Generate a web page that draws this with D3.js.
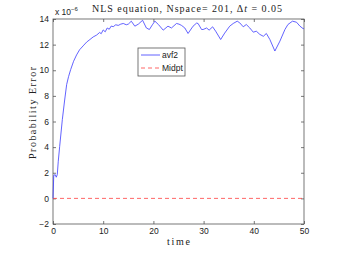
<!DOCTYPE html>
<meta charset="utf-8">
<title>NLS probability error</title>
<style>
body{ margin:0; background:white; }
text{ fill:#222; }
</style>
<body>
<script src="https://d3js.org/d3.v7.min.js"></script>
<script>

// avf2 probability error (x 1e-6) against time
var time = [0,0.15,0.45,0.65,0.85,1.05,1.33,1.86,2.3,2.72,3.1,3.52,4.1,4.7,5.3,6.0,6.7,7.36,8.0,8.7,
	9.3,9.6,10.0,10.4,10.8,11.2,11.6,12.0,12.5,13,13.5,14,14.6,15.0,15.6,16.3,17.0,17.85,18.6,19.2,
	19.8,20.3,21,21.95,22.9,23.6,24.6,25.1,25.6,26.26,26.9,27.9,28.6,28.9,29.6,29.9,30.6,31.1,31.8,32.4,
	33.4,34.2,35.2,35.9,36.7,37.2,37.9,38.5,39.2,39.9,40.5,41.2,41.9,42.5,43.2,44.2,45.2,46.2,46.8,47.7,
	48.5,49.2,49.85,50];
var avf2 = [0,1.8,1.85,1.65,1.85,2.9,4.06,6.15,7.6,8.88,9.5,10.05,10.7,11.2,11.6,11.9,12.2,12.4,12.6,12.75,
	12.95,12.85,13.15,13.0,13.3,13.2,13.45,13.4,13.55,13.5,13.6,13.65,13.55,13.6,13.83,13.44,13.6,13.9,13.3,13.18,
	13.55,13.83,13.57,13.13,13.44,13.3,13.65,13.6,13.5,13.3,12.87,13.44,13.68,13.65,13.18,13.18,13.3,13.13,13.39,13.05,
	12.4,12.9,13.44,13.65,13.83,13.7,13.39,13.57,13.3,12.97,13.05,12.8,12.65,12.87,12.4,11.5,12.27,13.18,13.57,13.83,
	13.75,13.44,13.24,13.3];
var midptTime = [0, 50];
var midpt = [0, 0];

var xTicks = [0, 10, 20, 30, 40, 50];
var yTicks = [-2, 0, 2, 4, 6, 8, 10, 12, 14];
var legendNames = ['avf2', 'Midpt'];

var width = 337, height = 253;
var margin = {top: 19, right: 33, bottom: 29, left: 53};

var svg = d3.select('body').append('svg')
	.attr('width', width)
	.attr('height', height);

var x = d3.scaleLinear().domain([0, 50]).range([margin.left, width - margin.right]);
var y = d3.scaleLinear().domain([-2, 14]).range([height - margin.bottom, margin.top]);

var tickFont = '"Liberation Sans", Arial, sans-serif';
var serif = '"Liberation Serif", "Times New Roman", serif';

// axes, matlab style: ticks inward on all four sides
function styleAxis(g){
	g.select('.domain').remove();
	g.selectAll('line').attr('stroke', '#555').attr('stroke-width', 0.8);
	g.selectAll('text').attr('font-family', tickFont).attr('font-size', 8.5).attr('fill', '#222');
}

svg.append('g')
	.attr('transform', 'translate(0,' + y(-2) + ')')
	.call(d3.axisBottom(x).tickValues(xTicks).tickSizeInner(-3).tickSizeOuter(0).tickPadding(4))
	.call(styleAxis);
svg.append('g')
	.attr('transform', 'translate(0,' + y(14) + ')')
	.call(d3.axisTop(x).tickValues(xTicks).tickSizeInner(-3).tickSizeOuter(0).tickFormat(''))
	.call(styleAxis);
svg.append('g')
	.attr('transform', 'translate(' + x(0) + ',0)')
	.call(d3.axisLeft(y).tickValues(yTicks).tickSizeInner(-3).tickSizeOuter(0).tickPadding(4)
		.tickFormat(function(d){ return d < 0 ? '\u2212' + (-d) : d; }))
	.call(styleAxis);
svg.append('g')
	.attr('transform', 'translate(' + x(50) + ',0)')
	.call(d3.axisRight(y).tickValues(yTicks).tickSizeInner(-3).tickSizeOuter(0).tickFormat(''))
	.call(styleAxis);

svg.append('rect')
	.attr('x', x(0)).attr('y', y(14))
	.attr('width', x(50) - x(0)).attr('height', y(-2) - y(14))
	.attr('fill', 'none').attr('stroke', '#555').attr('stroke-width', 0.8);

// lines
var line = d3.line()
	.x(function(d){ return x(d[0]); })
	.y(function(d){ return y(d[1]); });

svg.append('path')
	.datum(d3.zip(midptTime, midpt))
	.attr('d', line)
	.attr('fill', 'none')
	.attr('stroke', '#ff4040')
	.attr('stroke-width', 0.8)
	.attr('stroke-dasharray', '4,3');

svg.append('path')
	.datum(d3.zip(time, avf2))
	.attr('d', line)
	.attr('fill', 'none')
	.attr('stroke', '#3b3bff')
	.attr('stroke-width', 0.8);

// exponent label
var ex = svg.append('text')
	.attr('x', x(0) + 2).attr('y', 15)
	.attr('font-family', tickFont).attr('font-size', 8.5);
ex.append('tspan').text('x 10');
ex.append('tspan').attr('dy', -4).attr('font-size', 6).text('\u22126');

// title
svg.append('text')
	.attr('x', 187).attr('y', 12)
	.attr('text-anchor', 'middle')
	.attr('font-family', serif).attr('font-size', 10)
	.attr('textLength', 190).attr('lengthAdjust', 'spacing')
	.text('NLS equation, Nspace= 201, \u0394t = 0.05')
	.call(function(t){
		t.text(null);
		t.append('tspan').text('NLS equation, Nspace= 201, \u0394');
		t.append('tspan').attr('font-style', 'italic').text('t');
		t.append('tspan').text(' = 0.05');
	});

// axis labels
svg.append('text')
	.attr('x', (x(0) + x(50)) / 2).attr('y', 245)
	.attr('text-anchor', 'middle')
	.attr('font-family', serif).attr('font-size', 10)
	.attr('textLength', 23).attr('lengthAdjust', 'spacing')
	.text('time');

svg.append('text')
	.attr('transform', 'translate(36,' + 113 + ') rotate(-90)')
	.attr('text-anchor', 'middle')
	.attr('font-family', serif).attr('font-size', 10)
	.attr('textLength', 92).attr('lengthAdjust', 'spacing')
	.text('Probability Error');

// legend
var lg = svg.append('g').attr('transform', 'translate(138,48)');
lg.append('rect')
	.attr('width', 47).attr('height', 28)
	.attr('fill', 'white').attr('stroke', '#555').attr('stroke-width', 0.8);

var entry = lg.selectAll('g.entry')
	.data(legendNames)
	.enter().append('g')
	.attr('class', 'entry')
	.attr('transform', function(d, i){ return 'translate(0,' + (7 + i * 13) + ')'; });

entry.append('line')
	.attr('x1', 3).attr('x2', 22)
	.attr('stroke', function(d, i){ return i == 0 ? '#3b3bff' : '#ff4040'; })
	.attr('stroke-width', 0.8)
	.attr('stroke-dasharray', function(d, i){ return i == 0 ? null : '4,3'; });

entry.append('text')
	.attr('x', 24).attr('y', 3)
	.attr('font-family', tickFont).attr('font-size', 8.5)
	.text(function(d){ return d; });

</script>
</body>
